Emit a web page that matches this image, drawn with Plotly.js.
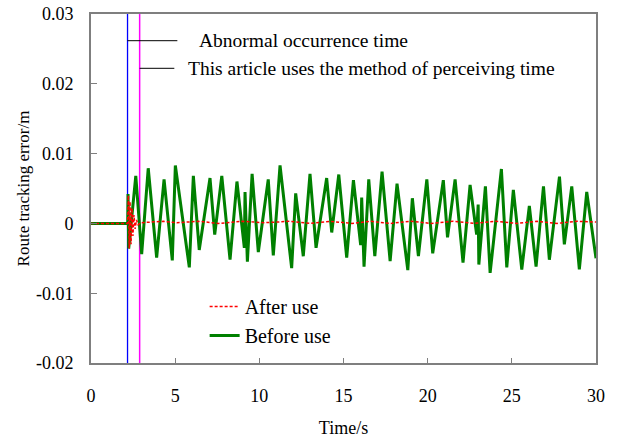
<!DOCTYPE html>
<html>
<head>
<meta charset="utf-8">
<script src="https://cdn.plot.ly/plotly-3.0.1.min.js"></script>
<style>html,body{margin:0;padding:0;background:#fff;}#chart{width:622px;height:438px;}</style>
</head>
<body>
<div id="chart"></div>
<script>
// ---- data ----
const beforeT = [0, 2.18, 2.20, 2.24, 2.66, 3.01, 3.40, 3.90, 4.34, 4.83, 5.01, 5.84, 6.08, 6.43, 7.07, 7.35, 7.77, 8.26, 8.67, 9.11, 9.15, 9.29, 9.57, 9.94, 10.53, 10.83, 11.23, 11.92, 12.16, 12.61, 13.01, 13.37, 14.00, 14.30, 14.72, 15.19, 15.59, 16.02, 16.08, 16.22, 16.50, 16.86, 17.29, 17.77, 18.18, 18.82, 19.09, 19.45, 19.95, 20.30, 20.93, 21.18, 21.63, 22.10, 22.52, 22.91, 23.00, 23.04, 23.43, 23.71, 24.38, 24.70, 25.09, 25.59, 26.04, 26.44, 26.88, 27.23, 27.83, 28.12, 28.56, 29.01, 29.45, 30.0];
const beforeV = [0, 0, 0.0042, -0.0036, 0.0068, -0.0044, 0.0079, -0.0049, 0.0063, -0.0053, 0.0083, -0.0063, 0.0068, -0.0038, 0.0065, -0.0016, 0.0068, -0.0052, 0.0060, -0.0035, 0.0045, -0.0055, 0.0071, -0.0041, 0.0063, -0.0046, 0.0083, -0.0064, 0.0043, -0.0047, 0.0071, -0.0035, 0.0065, -0.0013, 0.0070, -0.0049, 0.0062, -0.0031, 0.0037, -0.0062, 0.0063, -0.0047, 0.0074, -0.0054, 0.0057, -0.0067, 0.0036, -0.0047, 0.0063, -0.0043, 0.0062, -0.0020, 0.0063, -0.0056, 0.0055, -0.0016, 0.0027, -0.0059, 0.0053, -0.0071, 0.0078, -0.0063, 0.0048, -0.0066, 0.0025, -0.0062, 0.0053, -0.0052, 0.0067, -0.0030, 0.0053, -0.0066, 0.0045, -0.0050];
const afterT = [0, 2.18, 2.22, 2.27, 2.32, 2.38, 2.43, 2.49, 2.55, 2.62, 2.70, 2.80, 2.95, 3.6, 4.3, 5.1, 6.4, 7.6, 9.0, 10.3, 11.8, 13.0, 14.2, 15.5, 16.6, 17.8, 19.0, 20.2, 21.5, 22.8, 24.0, 25.3, 26.5, 27.7, 28.9, 30.0];
const afterV = [0, 0, 0.0040, -0.0036, 0.0031, -0.0030, 0.0022, -0.0018, 0.0012, -0.0008, 0.0005, -0.0002, 0.0001, 0.0002, 0.0003, 0.0001, 0.0003, 0.0000, 0.0003, 0.0001, 0.0003, 0.0000, 0.0003, 0.0000, 0.0003, 0.0000, 0.0003, 0.0000, 0.0003, 0.0000, 0.0003, 0.0000, 0.0003, 0.0000, 0.0003, 0.0002];
const abnormalTime = 2.17;
const perceiveTime = 2.89;
const seriesNames = ["After use", "Before use"];
const markerTexts = ["Abnormal occurrence time", "This article uses the method of perceiving time"];
const xTicks = [0, 5, 10, 15, 20, 25, 30];
const yTicks = [-0.02, -0.01, 0, 0.01, 0.02, 0.03];
const yTickText = ["-0.02", "-0.01", "0", "0.01", "0.02", "0.03"];
const yRange = [-0.02, 0.03];

const FONT = "Liberation Serif, Times New Roman, serif";

const traces = [
  {x: [abnormalTime, abnormalTime], y: yRange, mode: "lines", line: {color: "#0000ff", width: 1.3}, showlegend: false, hoverinfo: "skip"},
  {x: [perceiveTime, perceiveTime], y: yRange, mode: "lines", line: {color: "#ff00ff", width: 1.5}, showlegend: false, hoverinfo: "skip"},
  {x: beforeT, y: beforeV, name: seriesNames[1], mode: "lines", line: {color: "#008000", width: 3}, legendrank: 2},
  {x: afterT, y: afterV, name: seriesNames[0], mode: "lines", line: {color: "#ff0000", width: 1.5, dash: "3px,2px"}, legendrank: 1}
];

const axisLine = "#7f7f7f";
const layout = {
  width: 622, height: 438,
  margin: {l: 91, r: 26, t: 14, b: 75},
  paper_bgcolor: "#ffffff", plot_bgcolor: "#ffffff",
  font: {family: FONT, size: 18, color: "#000"},
  showlegend: true,
  legend: {x: 0.225, y: 0.218, xanchor: "left", yanchor: "top", bgcolor: "rgba(0,0,0,0)", font: {family: FONT, size: 20}, tracegroupgap: 0},
  xaxis: {
    range: [0, 30], tickvals: xTicks, ticks: "inside", ticklen: 5, tickcolor: axisLine,
    showline: true, linecolor: axisLine, linewidth: 2, mirror: true, showgrid: false, zeroline: false,
    ticklabelstandoff: 15,
    title: {text: "Time/s", font: {family: FONT, size: 18}, standoff: 17}
  },
  yaxis: {
    range: yRange, tickvals: yTicks, ticktext: yTickText, ticks: "inside", ticklen: 6, tickcolor: axisLine,
    showline: true, linecolor: axisLine, linewidth: 2, mirror: true, showgrid: false, zeroline: false,
    ticklabelstandoff: 12,
    title: {text: "Route tracking error/m", font: {family: FONT, size: 17}, standoff: 2}
  },
  shapes: [
    {type: "line", xref: "x", yref: "paper", x0: abnormalTime, x1: 5.13, y0: 0.9235, y1: 0.9235, line: {color: "#000", width: 1}},
    {type: "line", xref: "x", yref: "paper", x0: perceiveTime, x1: 4.95, y0: 0.8444, y1: 0.8444, line: {color: "#000", width: 1}}
  ],
  annotations: [
    {xref: "x", yref: "paper", x: 6.3, y: 0.9235, xanchor: "left", yanchor: "middle", text: markerTexts[0], showarrow: false, font: {family: FONT, size: 19.5}},
    {xref: "x", yref: "paper", x: 5.65, y: 0.8444, xanchor: "left", yanchor: "middle", text: markerTexts[1], showarrow: false, font: {family: FONT, size: 19.5}}
  ]
};

Plotly.newPlot("chart", traces, layout, {staticPlot: true, displayModeBar: false});
</script>
</body>
</html>
